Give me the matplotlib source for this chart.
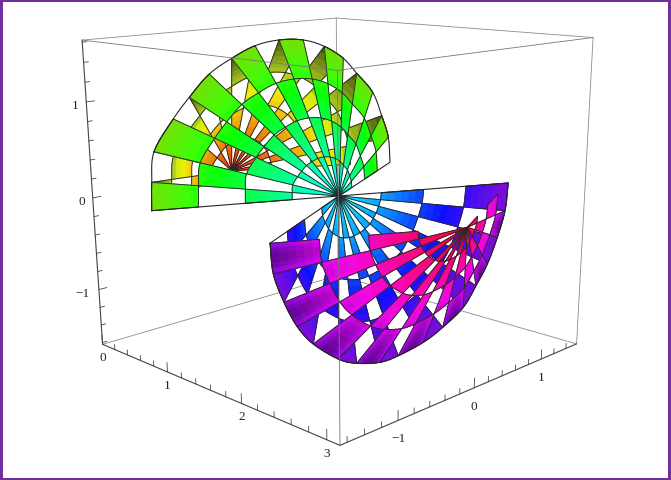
import colorsys
import numpy as np
import matplotlib
matplotlib.use("Agg")
import matplotlib.pyplot as plt
from matplotlib.collections import PolyCollection

# ---- chart values (data coordinates on the plane x = pi/2)
plane_x = np.pi / 2
pole_a = (-0.034, 0.01)
pole_up = (-1.332, 0.492)
pole_lo = (1.896, -0.72)
arc_up_y = [-2.189, -2.174, -2.136, -1.928, -1.755, -1.538, -1.292, -1.03, -0.754, -0.466, -0.208, 0.033, 0.209, 0.425, 0.551, 0.646, 0.672]
arc_up_z = [0.269, 0.526, 0.797, 1.062, 1.236, 1.422, 1.541, 1.634, 1.665, 1.642, 1.559, 1.42, 1.251, 1.033, 0.771, 0.527, 0.252]
arc_lo_y = [-0.914, -0.883, -0.759, -0.598, -0.394, -0.059, 0.199, 0.54, 0.816, 1.207, 1.52, 1.861, 2.072, 2.261, 2.425, 2.548, 2.59]
arc_lo_z = [-0.309, -0.634, -0.964, -1.271, -1.52, -1.789, -1.916, -2.007, -2.01, -1.96, -1.862, -1.702, -1.483, -1.254, -0.954, -0.646, -0.309]
band_edges = [0.0, 0.25, 0.5, 0.75, 1.0]

x_ticks = [0, 1, 2, 3]
y_ticks = [-1, 0, 1]
z_ticks = [-1, 0, 1]
x_lim = (0.0, np.pi)
y_lim = (-1.68, 1.58)
z_lim = (-1.62, 1.62)

# ---- projection of the box, calibrated on its eight corners
xl, xh = x_lim
yl, yh = y_lim
zl, zh = z_lim
corner3 = [(xl, yl, zh), (xl, yl, zl), (xh, yl, zh), (xh, yl, zl),
           (xh, yh, zh), (xh, yh, zl), (xl, yh, zh), (xl, yh, zl)]
corner2 = [(82, 42), (103, 345), (338, 70), (339, 447),
           (593, 40), (577, 344), (336, 18), (338, 277)]
rows = []
for (X, Y, Z), (u, v) in zip(corner3, corner2):
    rows.append([X, Y, Z, 1, 0, 0, 0, 0, -u * X, -u * Y, -u * Z, -u])
    rows.append([0, 0, 0, 0, X, Y, Z, 1, -v * X, -v * Y, -v * Z, -v])
CAM = np.linalg.svd(np.array(rows, float))[2][-1].reshape(3, 4)


def project(x, y, z):
    p = np.stack([np.asarray(x, float) * np.ones_like(np.asarray(y, float)),
                  np.asarray(y, float), np.asarray(z, float),
                  np.ones_like(np.asarray(y, float))], axis=-1)
    q = p @ CAM.T
    return q[..., 0] / q[..., 2], q[..., 1] / q[..., 2]


def to_screen(yz):
    u, v = project(plane_x, yz[..., 0], yz[..., 1])
    return np.stack([u, v], axis=-1)


W, H = 671, 481
fig = plt.figure(figsize=(W / 100, H / 100), dpi=100, facecolor="#7030A0")
ax = fig.add_axes([3 / W, 2 / H, (W - 6) / W, (H - 5) / H])
ax.set_xlim(3, W - 3)
ax.set_ylim(H - 2, 3)
ax.axis("off")
ax.add_patch(plt.Rectangle((3, 3), W - 6, H - 5, fc="white", ec="none", zorder=0))


def box_line(a, b, color, lw, zorder):
    u, v = project(np.array([a[0], b[0]]), np.array([a[1], b[1]]), np.array([a[2], b[2]]))
    ax.plot(u, v, color=color, lw=lw, zorder=zorder, solid_capstyle="round")


thin = "#8c8c8c"
for a, b in [((xl, yl, zh), (xl, yh, zh)), ((xl, yh, zh), (xh, yh, zh)),
             ((xl, yh, zh), (xl, yh, zl)), ((xl, yh, zl), (xl, yl, zl)),
             ((xl, yh, zl), (xh, yh, zl)), ((xh, yh, zh), (xh, yh, zl))]:
    box_line(a, b, thin, 0.6, 1)
for a, b in [((xh, yh, zh), (xh, yl, zh)), ((xh, yl, zh), (xl, yl, zh)),
             ((xh, yl, zh), (xh, yl, zl))]:
    box_line(a, b, "#777777", 0.6, 6)
dark = "#444444"
box_line((xl, yl, zl), (xh, yl, zl), dark, 0.8, 5)
box_line((xh, yl, zl), (xh, yh, zl), dark, 0.8, 5)
box_line((xl, yl, zl), (xl, yl, zh), dark, 0.8, 5)

for t in np.arange(0, 3.01, 0.2):
    maj = abs(t - round(t)) < 1e-6
    u, v = project(np.array([t, t]), np.array([yl, yl]), np.array([zl, zl + (0.1 if maj else 0.055)]))
    ax.plot(u, v, color=dark, lw=0.6, zorder=5)
for t in np.arange(-1.6, 1.41, 0.2):
    maj = abs(t - round(t)) < 1e-6
    u, v = project(np.array([xh, xh]), np.array([t, t]), np.array([zl, zl + (0.1 if maj else 0.055)]))
    ax.plot(u, v, color=dark, lw=0.6, zorder=5)
for t in np.arange(-1.6, 1.61, 0.2):
    maj = abs(t - round(t)) < 1e-6
    u, v = project(np.array([xl, xl]), np.array([yl, yl + (0.09 if maj else 0.05)]), np.array([t, t]))
    ax.plot(u, v, color=dark, lw=0.6, zorder=5)


def tick_label(s, u, v, dx, dy):
    ax.annotate(s, (u, v), xytext=(dx, -dy), textcoords="offset pixels", ha="center", va="center",
                family="Liberation Serif", fontsize=9.5, color="#222222", zorder=6)


for t in x_ticks:
    u, v = project(t, np.array(yl), np.array(zl))
    tick_label(str(t), u, v, 0, 13)
for t in y_ticks:
    u, v = project(xh, np.array(float(t)), np.array(zl))
    tick_label(str(t).replace("-", "\u2212"), u, v, 0, 18)
for t in z_ticks:
    u, v = project(xl, np.array(yl), np.array(float(t)))
    tick_label(str(t).replace("-", "\u2212"), u, v, -11 if t >= 0 else -16, 3)


def hsv(h, s, v):
    return colorsys.hsv_to_rgb(h % 1.0, min(max(s, 0), 1), min(max(v, 0), 1))


def col_up_a(rho, tau):
    v = 1.0 if rho < 0.8 else 1.0 - 0.12 * (rho - 0.8) / 0.2
    return hsv(0.5 - 0.25 * rho, 0.97, v)


def col_up_b(rho, tau):
    if rho < 0.72:
        return hsv(0.015 + 0.25 * rho, 0.95, 0.93)
    return hsv(0.2, 0.85, 0.82 - 0.5 * ((rho - 0.72) / 0.28) ** 1.3)


def col_lo_a(rho, tau):
    return hsv(0.5 + 0.26 * rho, 0.95, 1.0 - 0.15 * max(rho - 0.7, 0) / 0.3)


def col_lo_b(rho, tau):
    h = 0.98 - 0.21 * rho
    v = 0.97 if rho < 0.6 else 0.97 - 0.4 * np.sin(np.pi * tau) * (rho - 0.6) / 0.4
    return hsv(h, 0.97, v)


def curve_point(ends, i, t):
    """Point on the rim between two read points, on a smooth curve."""
    n = len(ends)
    p1, p2 = ends[i], ends[i + 1]
    p0 = ends[i - 1] if i > 0 else 2 * p1 - p2
    p3 = ends[i + 2] if i + 2 < n else 2 * p2 - p1
    return 0.5 * (2 * p1 + (p2 - p0) * t + (2 * p0 - 5 * p1 + 4 * p2 - p3) * t ** 2
                  + (3 * p1 - p0 - 3 * p2 + p3) * t ** 3)


def layer(pole, ends, parity, colfun, zorder, nsub=6):
    pole = to_screen(np.asarray(pole))
    ends = to_screen(ends)
    fills, cols, outlines = [], [], []
    ts = np.linspace(0, 1, nsub + 1)
    for i in range(len(ends) - 1):
        wedge_no = i + 1
        rim = np.array([curve_point(ends, i, t) for t in ts])
        for k in range(len(band_edges) - 1):
            if (wedge_no + k) % 2 != parity:
                continue
            r0, r1 = band_edges[k], band_edges[k + 1]
            inner = pole + r0 * (rim - pole)
            outer = pole + r1 * (rim - pole)
            outlines.append(np.vstack([inner, outer[::-1]]))
            for a in range(nsub):
                ra0 = r0 + (r1 - r0) * a / nsub
                ra1 = r0 + (r1 - r0) * (a + 1) / nsub
                for b in range(nsub):
                    quad = np.array([pole + ra0 * (rim[b] - pole), pole + ra1 * (rim[b] - pole),
                                     pole + ra1 * (rim[b + 1] - pole), pole + ra0 * (rim[b + 1] - pole)])
                    fills.append(quad)
                    cols.append(colfun((ra0 + ra1) / 2, (ts[b] + ts[b + 1]) / 2))
    ax.add_collection(PolyCollection(fills, facecolors=cols, edgecolors=cols, linewidths=0.6, zorder=zorder))
    ax.add_collection(PolyCollection(outlines, facecolors="none", edgecolors="#262626", linewidths=0.65, zorder=zorder + 0.1))


arc_up = np.column_stack([arc_up_y, arc_up_z])
arc_lo = np.column_stack([arc_lo_y, arc_lo_z])

layer(pole_up, arc_up, 0, col_up_b, 2)
layer(pole_a, arc_up, 0, col_up_a, 3)
layer(pole_a, arc_lo, 1, col_lo_a, 2)
layer(pole_lo, arc_lo, 0, col_lo_b, 3)

for arc in (arc_up, arc_lo):
    s = to_screen(arc)
    pts = [curve_point(s, i, t) for i in range(len(s) - 1) for t in np.linspace(0, 1, 7)]
    pts = np.array(pts + [to_screen(np.asarray(pole_a))] + [s[0]])
    ax.plot(pts[:, 0], pts[:, 1], color="#262626", lw=0.8, zorder=4)

fig.savefig("out.png", dpi=100, facecolor=fig.get_facecolor())
